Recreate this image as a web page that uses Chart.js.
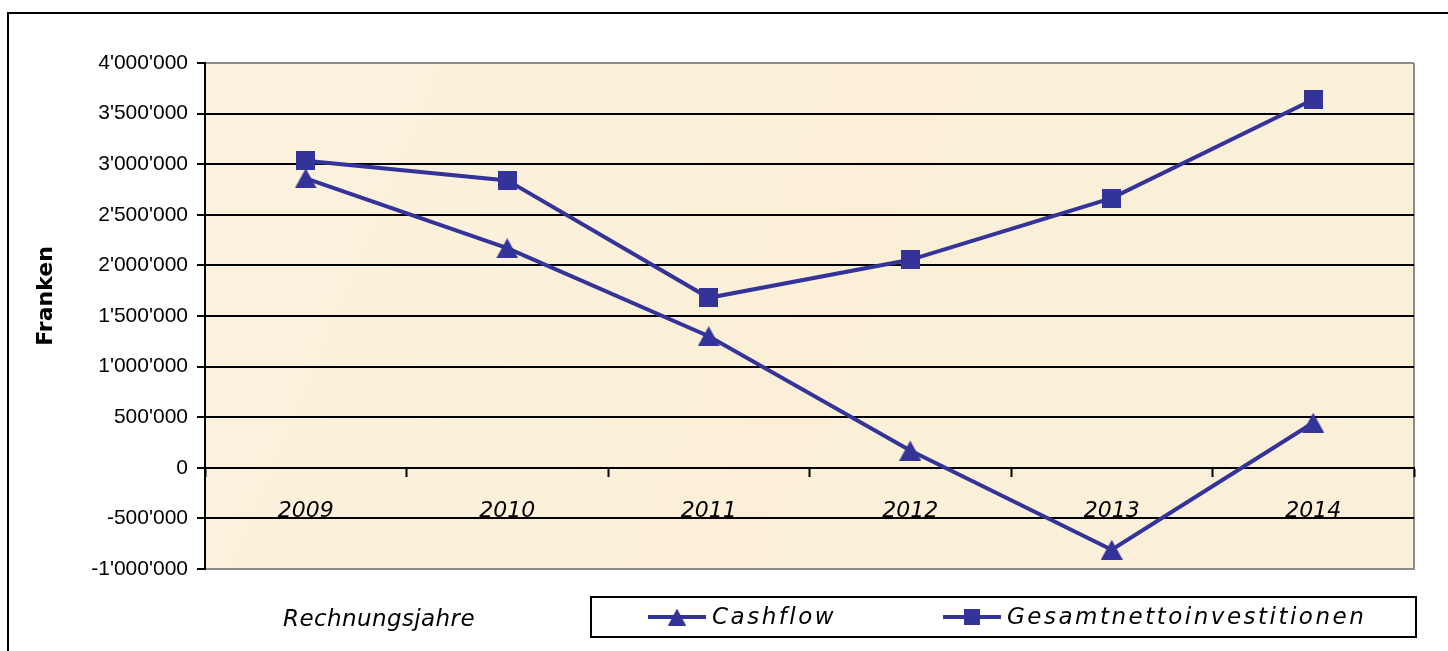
<!DOCTYPE html>
<html>
<head>
<meta charset="utf-8">
<title>Cashflow und Gesamtnettoinvestitionen</title>
<script src="https://cdn.jsdelivr.net/npm/chart.js@4.4.1/dist/chart.umd.min.js"></script>
<style>
  html, body { margin: 0; padding: 0; background: #fff; }
  #wrap { position: relative; width: 1448px; height: 651px; }
</style>
</head>
<body>
<div id="wrap"><canvas id="chart"></canvas></div>
<script>
// data
const years = ['2009', '2010', '2011', '2012', '2013', '2014'];
const cashflow = [2860000, 2170000, 1300000, 170000, -810000, 445000];
const investitionen = [3035000, 2840000, 1680000, 2055000, 2665000, 3640000];
const seriesNames = ['Cashflow', 'Gesamtnettoinvestitionen'];
const yTickValues = [-1000000, -500000, 0, 500000, 1000000, 1500000, 2000000, 2500000, 3000000, 3500000, 4000000];
const yTitle = 'Franken';
const xTitle = 'Rechnungsjahre';

const navy = '#333399';

// swiss style thousands: 1'500'000
function swiss(v) {
    const s = Math.abs(v).toString().replace(/\B(?=(\d{3})+(?!\d))/g, "'");
    return (v < 0 ? '-' : '') + s;
}

// marker images, centred on the point like the excel markers
function makeMarker(shape, w, h) {
    const c = document.createElement('canvas');
    c.width = w;
    c.height = h;
    const g = c.getContext('2d');
    g.fillStyle = navy;
    if (shape === 'triangle') {
        g.beginPath();
        g.moveTo(w / 2, 0);
        g.lineTo(w, h);
        g.lineTo(0, h);
        g.closePath();
        g.fill();
    } else {
        g.fillRect(0, 0, w, h);
    }
    return c;
}
const triangle = makeMarker('triangle', 22, 20);
const square = makeMarker('rect', 19, 19);
const legendTriangle = makeMarker('triangle', 18, 17);
const legendSquare = makeMarker('rect', 16, 16);

const decor = {
    id: 'decor',
    beforeDraw(chart) {
        const ctx = chart.ctx;
        const a = chart.chartArea;
        ctx.save();
        ctx.fillStyle = '#fff';
        ctx.fillRect(0, 0, chart.width, chart.height);
        // outer frame (top and left only are visible)
        ctx.strokeStyle = '#000';
        ctx.lineWidth = 2;
        ctx.beginPath();
        ctx.moveTo(8, chart.height);
        ctx.lineTo(8, 13);
        ctx.lineTo(chart.width, 13);
        ctx.stroke();
        // parchment plot background
        const grad = ctx.createLinearGradient(a.left, a.top, a.right, a.bottom);
        grad.addColorStop(0, '#fcf2de');
        grad.addColorStop(0.5, '#fbefd7');
        grad.addColorStop(1, '#faf0da');
        ctx.fillStyle = grad;
        ctx.fillRect(a.left, a.top, a.right - a.left, a.bottom - a.top);
        // right border of the plot
        ctx.strokeStyle = '#8c8c8c';
        ctx.lineWidth = 2;
        ctx.beginPath();
        ctx.moveTo(a.right, a.top);
        ctx.lineTo(a.right, a.bottom + 1);
        ctx.stroke();
        ctx.restore();
    },
    afterDraw(chart) {
        const ctx = chart.ctx;
        ctx.save();
        ctx.fillStyle = '#000';

        // y axis title
        ctx.font = 'bold 22px "DejaVu Sans"';
        ctx.textAlign = 'center';
        ctx.textBaseline = 'middle';
        ctx.translate(46, 296);
        ctx.rotate(-Math.PI / 2);
        ctx.fillText(yTitle, 0, 0);
        ctx.setTransform(1, 0, 0, 1, 0, 0);

        // x axis title
        ctx.font = 'italic 23px "DejaVu Sans"';
        ctx.letterSpacing = '0.4px';
        ctx.fillText(xTitle, 379, 620);

        // legend box
        const box = {x: 591, y: 597, w: 825, h: 40};
        ctx.fillStyle = '#fff';
        ctx.fillRect(box.x, box.y, box.w, box.h);
        ctx.strokeStyle = '#000';
        ctx.lineWidth = 2;
        ctx.strokeRect(box.x, box.y, box.w, box.h);

        const cy = box.y + box.h / 2;
        const entries = [
            {x: 648, marker: legendTriangle},
            {x: 943, marker: legendSquare}
        ];
        ctx.font = 'italic 23px "DejaVu Sans"';
        ctx.letterSpacing = '2.5px';
        ctx.textAlign = 'left';
        entries.forEach((e, i) => {
            ctx.strokeStyle = navy;
            ctx.lineWidth = 4;
            ctx.beginPath();
            ctx.moveTo(e.x, cy);
            ctx.lineTo(e.x + 58, cy);
            ctx.stroke();
            ctx.drawImage(e.marker, e.x + 29 - e.marker.width / 2, cy - e.marker.height / 2);
            ctx.fillStyle = '#000';
            ctx.fillText(chart.data.datasets[i].label, e.x + 64, cy + 1);
        });
        ctx.restore();
    }
};

const ctx = document.getElementById('chart').getContext('2d');

new Chart(ctx, {
    type: 'line',
    data: {
        labels: years,
        datasets: [{
            label: seriesNames[0],
            data: cashflow,
            borderColor: navy,
            backgroundColor: navy,
            borderWidth: 4,
            pointStyle: triangle,
            tension: 0,
            order: 1
        }, {
            label: seriesNames[1],
            data: investitionen,
            borderColor: navy,
            backgroundColor: navy,
            borderWidth: 4,
            pointStyle: square,
            tension: 0,
            order: 0
        }]
    },
    options: {
        responsive: true,
        maintainAspectRatio: false,
        animation: false,
        layout: {
            padding: {top: 63, right: 34, bottom: 82, left: 0}
        },
        plugins: {
            legend: {display: false},
            title: {display: false},
            tooltip: {enabled: false}
        },
        scales: {
            x: {
                type: 'category',
                position: {y: 0},
                offset: true,
                grid: {
                    offset: true,
                    drawOnChartArea: false,
                    drawTicks: true,
                    tickLength: 8,
                    tickColor: '#000',
                    tickWidth: 2
                },
                border: {color: '#000', width: 2},
                ticks: {
                    color: '#000',
                    padding: 22,
                    font: {family: '"DejaVu Sans"', size: 22, style: 'italic'}
                }
            },
            y: {
                min: -1000000,
                max: 4000000,
                afterBuildTicks: scale => {
                    scale.ticks = yTickValues.map(v => ({value: v}));
                },
                afterFit: scale => {
                    scale.width = 205;
                },
                grid: {
                    color: c => (c.tick && (c.tick.value === 4000000 || c.tick.value === -1000000)) ? '#8c8c8c' : '#000',
                    lineWidth: 2,
                    tickLength: 8,
                    tickColor: '#000'
                },
                border: {color: '#000', width: 2},
                ticks: {
                    color: '#000',
                    padding: 9,
                    font: {family: '"Liberation Sans"', size: 21},
                    callback: v => swiss(v)
                }
            }
        }
    },
    plugins: [decor]
});
</script>
</body>
</html>
